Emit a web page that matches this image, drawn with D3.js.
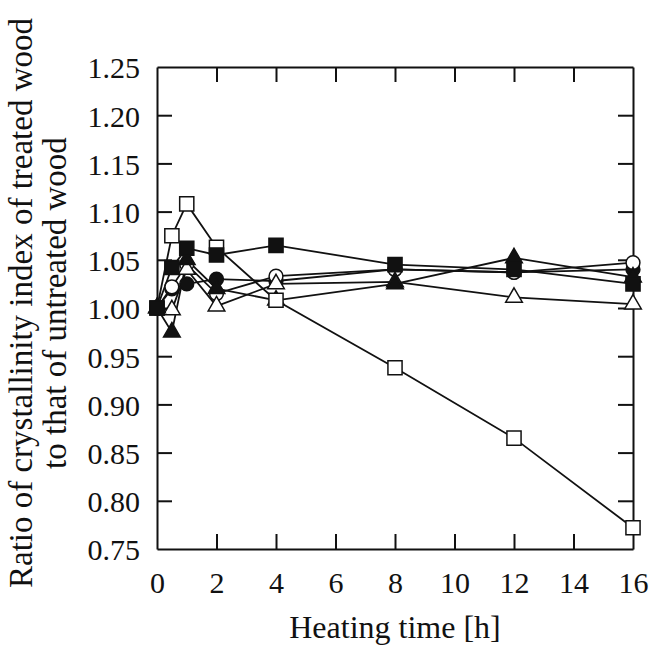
<!DOCTYPE html>
<html>
<head>
<meta charset="utf-8">
<script src="https://cdn.jsdelivr.net/npm/d3@7"></script>
<style>
  body { margin: 0; background: #fff; }
</style>
</head>
<body>
<div id="chart"></div>
<script>
// Tiempos de calentamiento (h)
const hours = [0, 0.5, 1, 2, 4, 8, 12, 16];
const xTicks = [0, 2, 4, 6, 8, 10, 12, 14, 16];
const yTicks = [0.75, 0.80, 0.85, 0.90, 0.95, 1.00, 1.05, 1.10, 1.15, 1.20, 1.25];

// Series
const openSquare   = [1.000, 1.075, 1.108, 1.063, 1.008, 0.938, 0.865, 0.772];
const filledSquare = [1.000, 1.042, 1.062, 1.055, 1.065, 1.045, 1.040, 1.025];
const openCircle   = [1.000, 1.022, 1.045, 1.015, 1.033, 1.040, 1.037, 1.047];
const filledCircle = [1.000, 1.020, 1.025, 1.030, 1.028, 1.040, 1.037, 1.040];
const openTri      = [1.000, 0.998, 1.040, 1.002, 1.025, 1.027, 1.011, 1.004];
const filledTri    = [1.000, 0.975, 1.050, 1.020, 1.008, 1.025, 1.052, 1.032];

const series = [
  {values: filledCircle, shape: 'circle', fill: true},
  {values: openCircle, shape: 'circle', fill: false},
  {values: openTri, shape: 'triangle', fill: false},
  {values: filledTri, shape: 'triangle', fill: true},
  {values: openSquare, shape: 'square', fill: false},
  {values: filledSquare, shape: 'square', fill: true}
];

const serif = '"Liberation Serif", "Times New Roman", Times, "DejaVu Serif", serif';

const width = 653, height = 650;
const margin = {top: 67, right: 20, bottom: 101, left: 157};

const svg = d3.select('#chart').append('svg')
  .attr('width', width)
  .attr('height', height);

const x = d3.scaleLinear().domain([0, 16]).range([margin.left, width - margin.right]);
const y = d3.scaleLinear().domain([0.75, 1.25]).range([height - margin.bottom, margin.top]);

const tickLen = 15;

// Ejes con marcas hacia dentro
const gx = svg.append('g')
  .attr('transform', `translate(0,${y(0.75)})`)
  .call(d3.axisBottom(x).tickValues(xTicks).tickSizeInner(-tickLen).tickSizeOuter(0).tickPadding(tickLen + 8).tickFormat(d3.format('d')));
const gxTop = svg.append('g')
  .attr('transform', `translate(0,${y(1.25)})`)
  .call(d3.axisTop(x).tickValues(xTicks).tickSizeInner(-tickLen).tickSizeOuter(0).tickFormat(''));
const gy = svg.append('g')
  .attr('transform', `translate(${x(0)},0)`)
  .call(d3.axisLeft(y).tickValues(yTicks).tickSizeInner(-tickLen).tickSizeOuter(0).tickPadding(tickLen + 2).tickFormat(d3.format('.2f')));
const gyRight = svg.append('g')
  .attr('transform', `translate(${x(16)},0)`)
  .call(d3.axisRight(y).tickValues(yTicks).tickSizeInner(-tickLen).tickSizeOuter(0).tickFormat(''));

[gx, gxTop, gy, gyRight].forEach(g => {
  g.attr('font-family', null);
  g.select('.domain').attr('stroke', '#111').attr('stroke-width', 2);
  g.selectAll('.tick line').attr('stroke', '#111').attr('stroke-width', 2);
  g.selectAll('.tick text')
    .attr('font-family', serif)
    .style('font-family', serif)
    .style('font-size', '30px')
    .attr('fill', '#111');
});
// ocultar marcas en los extremos (coinciden con el marco)
gx.selectAll('.tick line').filter(d => d === 0 || d === 16).remove();
gxTop.selectAll('.tick line').filter(d => d === 0 || d === 16).remove();
gy.selectAll('.tick line').filter(d => d === 0.75 || d === 1.25).remove();
gyRight.selectAll('.tick line').filter(d => d === 0.75 || d === 1.25).remove();
gy.selectAll('.tick text').attr('dy', '0.36em');

// Titulos de ejes
svg.append('text')
  .attr('x', (x(0) + x(16)) / 2)
  .attr('y', 638)
  .attr('text-anchor', 'middle')
  .attr('fill', '#111')
  .style('font-family', serif)
  .style('font-size', '32px')
  .text('Heating time [h]');

const cy = 303;
svg.append('text')
  .attr('transform', `translate(32,${cy}) rotate(-90)`)
  .attr('text-anchor', 'middle')
  .attr('fill', '#111')
  .style('font-family', serif)
  .style('font-size', '33px')
  .text('Ratio of crystallinity index of treated wood');
svg.append('text')
  .attr('transform', `translate(66,${cy}) rotate(-90)`)
  .attr('text-anchor', 'middle')
  .attr('fill', '#111')
  .style('font-family', serif)
  .style('font-size', '33px')
  .text('to that of untreated wood');

// Lineas
const line = d3.line().x((d, i) => x(hours[i])).y(d => y(d));
const plot = svg.append('g');
series.forEach(s => {
  plot.append('path')
    .datum(s.values)
    .attr('d', line)
    .attr('fill', 'none')
    .attr('stroke', '#111')
    .attr('stroke-width', 1.8);
});

// Marcadores
const symbols = {
  circle: d3.symbol().type(d3.symbolCircle).size(150),
  square: d3.symbol().type(d3.symbolSquare).size(200),
  triangle: d3.symbol().type(d3.symbolTriangle).size(120)
};
series.forEach(s => {
  plot.selectAll(null)
    .data(s.values)
    .enter().append('path')
    .attr('transform', (d, i) => `translate(${x(hours[i])},${y(d)})`)
    .attr('d', symbols[s.shape])
    .attr('fill', s.fill ? '#111' : '#fff')
    .attr('stroke', '#111')
    .attr('stroke-width', 1.5);
});
</script>
</body>
</html>
